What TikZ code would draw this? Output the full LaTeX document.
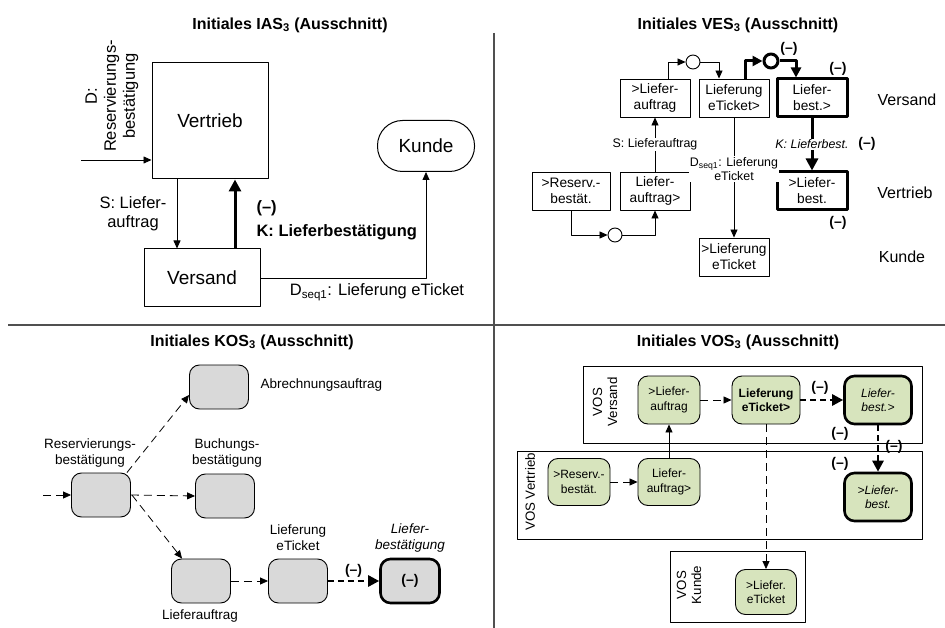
\documentclass[tikz,border=0pt]{standalone}
\usepackage{fontspec}
\setmainfont{Liberation Sans}
\usetikzlibrary{arrows.meta}

\definecolor{vosgreen}{HTML}{D7E4BD}
\definecolor{kosgray}{HTML}{D9D9D9}
\definecolor{divgray}{HTML}{505050}

\tikzset{
  ttl/.style={font=\fontsize{16}{19}\selectfont\bfseries},
  divider/.style={draw=divgray,line width=1.5pt},
  arr/.style={line width=0.8pt,-{Triangle[length=8pt,width=7pt]}},
  thk/.style={line width=3pt,-{Triangle[length=12pt,width=12pt]}},
  darr/.style={arr,dash pattern=on 8pt off 5pt},
  dthk/.style={line width=2.6pt,-{Triangle[length=11pt,width=11pt]},dash pattern=on 6pt off 4pt},
  iasbox/.style={draw,line width=1pt,font=\fontsize{19}{22}\selectfont},
  iaslbl/.style={font=\fontsize{16.5}{19}\selectfont,align=center},
  vbox/.style={draw,line width=0.9pt,minimum width=70,minimum height=38,inner sep=2pt,
    align=center,font=\fontsize{13.7}{16}\selectfont},
  vboxk/.style={vbox,line width=3pt},
  knot/.style={circle,draw,line width=0.9pt,minimum size=14,inner sep=0pt},
  vlbl/.style={font=\fontsize{12.4}{14.5}\selectfont,align=center,fill=white,inner sep=1pt},
  minus/.style={font=\fontsize{14}{16}\selectfont\bfseries,inner sep=1pt},
  lane/.style={font=\fontsize{16}{19}\selectfont},
  kbox/.style={draw,fill=kosgray,line width=0.9pt,rounded corners=10,minimum width=59,minimum height=44},
  klbl/.style={font=\fontsize{13.5}{16}\selectfont,align=center},
  gbox/.style={draw,fill=vosgreen,line width=0.9pt,rounded corners=10,minimum width=62,minimum height=48,
    inner sep=2pt,align=center,font=\fontsize{12}{14.5}\selectfont},
  gboxk/.style={gbox,line width=2.6pt},
  vlane/.style={draw,line width=0.8pt},
  vlanelbl/.style={rotate=90,align=center,font=\fontsize{13.3}{15}\selectfont}
}

\begin{document}
\begin{tikzpicture}[x=1pt,y=-1pt,line join=round]
  \useasboundingbox (0,0) rectangle (945,628);
  % quadrants
  \draw[divider] (494,33) -- (494,628);
  \draw[divider] (8,325) -- (945,325);

  % --- IAS ---
  \node[ttl] (iastitle) at (290,25) {Initiales IAS\textsubscript{3} (Ausschnitt)};
  \node[iasbox,minimum width=116,minimum height=116] (vertrieb) at (210,121) {Vertrieb};
  \node[iasbox,minimum width=116,minimum height=58] (versand) at (202,278) {Versand};
  \node[iasbox,rounded corners=25,minimum width=97,minimum height=51] (kunde) at (426,146) {Kunde};
  \coordinate (din) at (81,160);
  \draw[arr] (din) -- (din -| vertrieb.west);
  \node[iaslbl,rotate=90] (dlbl) at (112,96) {D:\\Reservierungs-\\bestätigung};
  \draw[arr] ([xshift=-33]vertrieb.south) -- ([xshift=-33]vertrieb.south |- versand.north);
  \node[iaslbl] (slbl) at (133,214) {S: Liefer-\\auftrag};
  \draw[thk] ([xshift=33]versand.north) -- ([xshift=33]versand.north |- vertrieb.south);
  \node[iaslbl,anchor=west,font=\fontsize{16.5}{19}\selectfont\bfseries] (kminus) at (253,208) {(\textendash)};
  \node[iaslbl,anchor=west,font=\fontsize{16.5}{19}\selectfont\bfseries] (klbl) at (253,232) {K: Lieferbestätigung};
  \draw[arr] (versand.east) -| (kunde.south);
  \node[iaslbl] (dseq) at (377,292) {D\textsubscript{seq1}: Lieferung eTicket};

  % --- VES ---
  \node[ttl] (vestitle) at (738,25) {Initiales VES\textsubscript{3} (Ausschnitt)};
  \node[vbox] (lauftrA) at (655,98) {>Liefer-\\auftrag};
  \node[vbox] (liefet) at (734,98) {Lieferung\\eTicket>};
  \node[vboxk] (lbestA) at (812,98) {Liefer-\\best.>};
  \node[vbox,minimum width=78] (reserv) at (571,191) {>Reserv.-\\bestät.};
  \node[vbox] (lauftrB) at (655,191) {Liefer-\\auftrag>};
  \node[vboxk] (lbestB) at (812,191) {>Liefer-\\best.};
  \node[vbox] (liefetB) at (734,257) {>Lieferung\\eTicket};
  \node[knot] (knA) at (615,235) {};
  \node[knot] (knB) at (693,62) {};
  \node[knot,line width=3pt] (knC) at (771,61) {};
  \draw[arr] (reserv.south) |- (knA.west);
  \draw[arr] (knA.east) -| (lauftrB.south);
  \draw[arr] (lauftrB.north) -- node[vlbl] {S: Lieferauftrag} (lauftrA.south);
  \draw[arr] ([xshift=13]lauftrA.north) |- (knB.west);
  \draw[arr] (knB.east) -| ([xshift=-15]liefet.north);
  \draw[thk,-{Triangle[length=10pt,width=10pt]}] ([xshift=11]liefet.north) |- (knC.west);
  \draw[thk,-{Triangle[length=10pt,width=10pt]}] (knC.east) -| ([xshift=-16]lbestA.north);
  \draw[thk] (lbestA.south) -- node[vlbl,font=\fontsize{12.4}{14.5}\selectfont\itshape] {K: Lieferbest.} (lbestB.north);
  \draw[arr] (liefet.south) -- node[vlbl,pos=0.43] {D\textsubscript{seq1}: Lieferung\\eTicket} (liefetB.north);
  \node[minus] (mA) at (789,49) {(\textendash)};
  \node[minus] (mB) at (838,69) {(\textendash)};
  \node[minus] (mC) at (867,144) {(\textendash)};
  \node[minus] (mD) at (838,223) {(\textendash)};
  \node[lane] (lnA) at (907,100) {Versand};
  \node[lane] (lnB) at (905,193) {Vertrieb};
  \node[lane] (lnC) at (902,257) {Kunde};

  % --- KOS ---
  \node[ttl] (kostitle) at (252,342) {Initiales KOS\textsubscript{3} (Ausschnitt)};
  \node[kbox] (abr) at (219,387) {};
  \node[kbox] (res) at (101,495) {};
  \node[kbox] (buch) at (225,496) {};
  \node[kbox] (lauf) at (201,581) {};
  \node[kbox] (liet) at (298,581) {};
  \node[kbox,line width=2.6pt,font=\fontsize{14}{16}\selectfont\bfseries] (lbest) at (410,581) {(\textendash)};
  \node[klbl,anchor=west] (abrlbl) at (257,385) {Abrechnungsauftrag};
  \node[klbl] (reslbl) at (90,453) {Reservierungs-\\bestätigung};
  \node[klbl] (buchlbl) at (227,453) {Buchungs-\\bestätigung};
  \node[klbl] (lauflbl) at (200,616) {Lieferauftrag};
  \node[klbl] (lietlbl) at (298,538) {Lieferung\\eTicket};
  \node[klbl,font=\fontsize{13.5}{16}\selectfont\itshape] (lbestlbl) at (410,538) {Liefer-\\bestätigung};
  \coordinate (kin) at (43,495);
  \draw[darr] (kin) -- (res.west);
  \draw[darr] ([xshift=-4]res.north east) -- ([yshift=-8]abr.west);
  \draw[darr] (res.east) -- (buch.west);
  \draw[darr] ([xshift=1]res.east) -- ([xshift=11]lauf.north west);
  \draw[darr] (lauf.east) -- (liet.west);
  \draw[dthk] (liet.east) -- node[minus,above=1pt] {(\textendash)} (lbest.west);

  % --- VOS ---
  \node[ttl] (vostitle) at (738,342) {Initiales VOS\textsubscript{3} (Ausschnitt)};
  \draw[vlane] (583,366) rectangle (922,443);
  \draw[vlane] (517,451) rectangle (922,539);
  \draw[vlane] (670,551) rectangle (805,622);
  \node[vlanelbl] (vlnA) at (605,402) {VOS\\Versand};
  \node[vlanelbl] (vlnB) at (530,492) {VOS Vertrieb};
  \node[vlanelbl] (vlnC) at (689,585) {VOS\\Kunde};
  \node[gbox] (vlA) at (669,400) {>Liefer-\\auftrag};
  \node[gbox,minimum width=68,font=\fontsize{12}{14.5}\selectfont\bfseries] (vle) at (766,400) {Lieferung\\eTicket>};
  \node[gboxk,minimum width=67,font=\fontsize{12}{14.5}\selectfont\itshape] (vlbA) at (878,400) {Liefer-\\best.>};
  \node[gbox,minimum height=47] (vres) at (579,482) {>Reserv.-\\bestät.};
  \node[gbox,minimum height=47] (vlB) at (669,482) {Liefer-\\auftrag>};
  \node[gboxk,minimum width=67,font=\fontsize{12}{14.5}\selectfont\itshape] (vlbB) at (878,497) {>Liefer-\\best.};
  \node[gbox,minimum width=61,minimum height=45] (vlet) at (766,592) {>Liefer.\\eTicket};
  \draw[darr] (vres.east) -- (vlB.west);
  \draw[arr] (vlB.north) -- (vlA.south);
  \draw[darr] (vlA.east) -- (vle.west);
  \draw[dthk] (vle.east) -- (vlbA.west);
  \draw[darr] (vle.south) -- (vlet.north);
  \draw[dthk] (vlbA.south) -- (vlbB.north);
  \node[minus] (vmA) at (820,388) {(\textendash)};
  \node[minus] (vmB) at (840,434) {(\textendash)};
  \node[minus] (vmC) at (894,447) {(\textendash)};
  \node[minus] (vmD) at (840,464) {(\textendash)};
\end{tikzpicture}
\end{document}
